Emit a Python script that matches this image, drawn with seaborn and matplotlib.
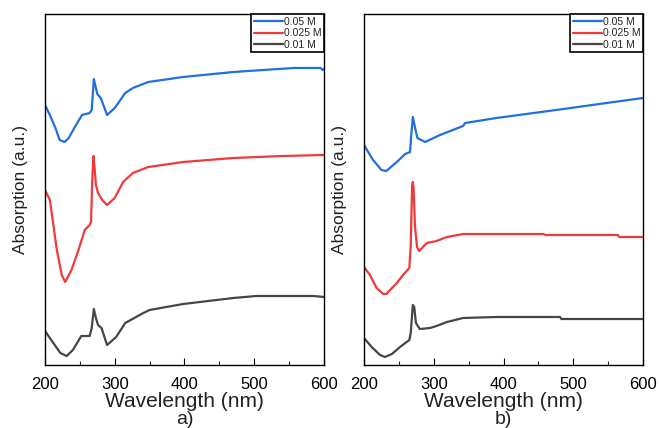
import numpy as np
import pandas as pd
import matplotlib
matplotlib.use("Agg")
import matplotlib.pyplot as plt
import seaborn as sns

# ---------------- data (arbitrary absorption units) --------------
labels = ["0.05 M", "0.025 M", "0.01 M"]
colors = ["#1f6fdc", "#f03a3a", "#454545"]

# panel a
a_blue_x = [200, 207, 215, 221, 228, 234, 242, 253, 264, 267, 270, 272, 275, 280, 289, 300, 308, 315, 326, 348, 398, 470, 556, 595, 598, 600]
a_blue_y = [260, 250, 237, 225, 223, 227, 237, 250, 252, 255, 286, 280, 271, 267, 250, 257, 265, 272, 277, 283, 288, 293, 297, 297, 295, 296]

a_red_x = [200, 207, 217, 224, 229, 238, 248, 257, 264, 266, 268, 269.5, 271, 273, 276, 282, 289, 300, 312, 326, 348, 398, 470, 541, 600]
a_red_y = [175, 165, 115, 90, 83, 95, 115, 135, 140, 143, 190, 209, 198, 180, 172, 165, 160, 167, 183, 192, 198, 203, 207, 209, 210]

a_blk_x = [200, 212, 222, 231, 240, 252, 264, 267, 270, 273, 276, 281, 289, 302, 315, 341, 350, 398, 470, 503, 585, 600]
a_blk_y = [34, 22, 12, 9, 15, 29, 29, 37, 56, 47, 40, 37, 20, 28, 42, 52, 55, 61, 67, 69, 69, 68]

# panel b
b_blue_x = [200, 213, 225, 232, 247, 259, 266, 268, 270, 273, 276.5, 287.5, 309, 342, 345, 390, 486, 558, 600]
b_blue_y = [220, 205, 195, 194, 203, 211, 213, 232, 248, 238, 227, 223, 230, 239, 242, 247, 256, 263, 267]

b_red_x = [200, 208.6, 218, 227.7, 232, 247, 256, 265, 267, 269, 270, 271, 273, 276, 279, 290, 304, 319, 342, 457, 460, 564, 566, 600]
b_red_y = [98, 90, 77, 71, 71, 82, 90, 97, 120, 180, 183, 178, 140, 118, 114, 122, 124, 128, 131, 131, 130, 130, 128, 128]

b_blk_x = [200, 211, 223, 230, 240, 251.6, 265, 267, 270, 272, 274.5, 280, 294.6, 304, 319, 342, 390, 481, 483, 600]
b_blk_y = [27, 18, 10, 8, 11, 18, 25, 32, 60, 58, 42, 36, 37, 39, 43, 47, 48, 48, 46, 46]

xticks = [200, 300, 400, 500, 600]
xlabel = "Wavelength (nm)"
ylabel = "Absorption (a.u.)"
panel_tags = ["a)", "b)"]

panels = [
    [(a_blue_x, a_blue_y), (a_red_x, a_red_y), (a_blk_x, a_blk_y)],
    [(b_blue_x, b_blue_y), (b_red_x, b_red_y), (b_blk_x, b_blk_y)],
]

# ---------------- drawing ----------------------------------------------------------------
sns.set_theme(style="white")
plt.rcParams["font.family"] = ["Liberation Sans", "DejaVu Sans"]

fig = plt.figure(figsize=(6.59, 4.28), dpi=100)
W, H = 659, 428
boxes = [(45, 14, 324, 365), (364, 14, 643, 365)]

for p, (series, box) in enumerate(zip(panels, boxes)):
    l, t, r, b = box
    ax = fig.add_axes([l / W, 1 - b / H, (r - l) / W, (b - t) / H])
    for (xs, ys), lab, c in zip(series, labels, colors):
        df = pd.DataFrame({"x": xs, "y": ys})
        sns.lineplot(data=df, x="x", y="y", ax=ax, color=c, linewidth=1.6,
                     label=lab, estimator=None, sort=False)
    ax.set_xlim(200, 600)
    ax.set_ylim(0, 351)
    ax.set_xticks(xticks)
    ax.set_xticks([250, 350, 450, 550], minor=True)
    ax.set_yticks([])
    ax.tick_params(axis="x", which="major", direction="in", length=5, width=0.8,
                   labelsize=12, pad=8.5, bottom=True, colors="black")
    ax.tick_params(axis="x", which="minor", direction="in", length=3, width=0.8, bottom=True)
    for s in ax.spines.values():
        s.set_color("black")
        s.set_linewidth(1.0)
    ax.set_xlabel(xlabel, fontsize=15, labelpad=0, color="#222222")
    ax.set_ylabel(ylabel, fontsize=12.5, labelpad=12, color="#222222")
    fig.text((l + r) / 2 / W, 1 - 420 / H, panel_tags[p], ha="center", va="center",
             fontsize=14, color="#222222")
    leg = ax.legend(loc="upper right", borderaxespad=0, frameon=True, fancybox=False,
                    fontsize=7.5, handlelength=2.8, handletextpad=0.1, borderpad=0.25,
                    labelspacing=0.15, framealpha=1)
    leg.get_frame().set_edgecolor("black")
    leg.get_frame().set_linewidth(1.2)

fig.savefig("out.png", dpi=100)
